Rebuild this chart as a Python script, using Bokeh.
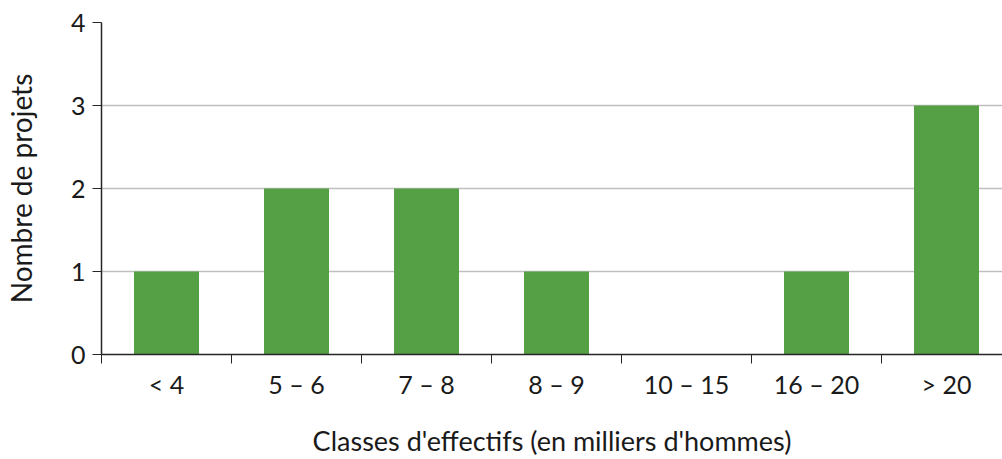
from bokeh.plotting import figure
from bokeh.models import Range1d, FixedTicker
from bokeh.embed import file_html
from bokeh.resources import INLINE

categories = ["< 4", "5 \u2013 6", "7 \u2013 8", "8 \u2013 9", "10 \u2013 15", "16 \u2013 20", "> 20"]
counts = [1, 2, 2, 1, 0, 1, 3]

FONT = "Lato"
centers = [i + 0.5 for i in range(len(categories))]

p = figure(width=1002, height=459, output_backend="svg", toolbar_location=None,
           x_range=Range1d(0, 901 / 130), y_range=Range1d(0, 4),
           min_border_left=101, min_border_right=0, min_border_top=22, min_border_bottom=105)
p.outline_line_color = None

p.vbar(x=centers, top=counts, width=0.5, fill_color="#559f45", line_color=None)

# x axis: labels at centres, tick marks at boundaries
xa = p.xaxis[0]
xa.ticker = FixedTicker(ticks=centers, minor_ticks=list(range(len(categories) + 1)))
xa.major_label_overrides = {c: lab for c, lab in zip(centers, categories)}
xa.major_tick_out = 0
xa.major_tick_in = 0
xa.minor_tick_out = 9
xa.minor_tick_in = 0
xa.minor_tick_line_color = "#262626"
xa.axis_line_color = "#262626"
xa.axis_line_width = 1.5
xa.major_label_text_font = FONT
xa.major_label_text_font_size = "25px"
xa.major_label_text_color = "#1a1a1a"
xa.major_label_standoff = 5
xa.axis_label = "Classes d'effectifs (en milliers d'hommes)"
xa.axis_label_text_font = FONT
xa.axis_label_text_font_size = "27px"
xa.axis_label_text_font_style = "normal"
xa.axis_label_text_color = "#1a1a1a"
xa.axis_label_standoff = 22

ya = p.yaxis[0]
ya.ticker = FixedTicker(ticks=[0, 1, 2, 3, 4], minor_ticks=[])
ya.major_tick_out = 9
ya.major_tick_in = 0
ya.major_tick_line_color = "#262626"
ya.axis_line_color = "#262626"
ya.axis_line_width = 1.5
ya.major_label_text_font = FONT
ya.major_label_text_font_size = "25px"
ya.major_label_text_color = "#1a1a1a"
ya.major_label_standoff = 7
ya.axis_label = "Nombre de projets"
ya.axis_label_text_font = FONT
ya.axis_label_text_font_size = "28px"
ya.axis_label_text_font_style = "normal"
ya.axis_label_text_color = "#1a1a1a"
ya.axis_label_standoff = 30

p.xgrid.grid_line_color = None
p.ygrid.ticker = FixedTicker(ticks=[1, 2, 3, 4])
p.ygrid.grid_line_color = "#bfbfbf"
p.ygrid.grid_line_width = 1.5

open("out.html", "w").write(file_html(p, INLINE))
